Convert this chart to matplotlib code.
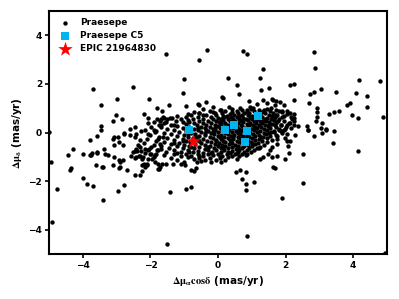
import matplotlib
matplotlib.use('Agg')
import matplotlib.pyplot as plt

# Praesepe members: dense core (relative proper motions, mas/yr)
praesepe_core = [
    (-0.45,0.97),(0.05,0.93),(0.42,0.99),(0.7,0.94),(0.98,0.96),(1.2,0.92),(1.45,0.98),(1.7,0.93),
    (-0.7,0.86),(-0.25,0.9),(0.2,0.87),(0.55,0.89),(0.85,0.85),(1.05,0.9),(1.3,0.86),(1.55,0.88),(1.9,0.85),
    (-0.9,0.78),(-0.55,0.82),(-0.1,0.79),(0.12,0.81),(0.35,0.78),(0.6,0.82),(0.78,0.79),(0.92,0.81),(1.15,0.78),(1.38,0.82),(1.62,0.8),(2.05,0.77),
    (-1.2,0.7),(-0.8,0.74),(-0.35,0.71),(-0.05,0.73),(0.25,0.7),(0.48,0.74),(0.7,0.71),(0.88,0.73),(1.0,0.7),(1.25,0.74),(1.5,0.71),(1.72,0.73),(1.95,0.7),
    (-1.35,0.62),(-0.95,0.66),(-0.6,0.63),(-0.2,0.65),(0.0,0.62),(0.18,0.66),(0.38,0.63),(0.55,0.65),(0.75,0.62),(0.95,0.66),(1.08,0.63),(1.3,0.65),(1.45,0.62),(1.68,0.66),(1.88,0.63),(2.15,0.65),
    (-1.5,0.54),(-1.1,0.58),(-0.75,0.55),(-0.45,0.57),(-0.15,0.54),(0.08,0.58),(0.3,0.55),(0.45,0.57),(0.62,0.54),(0.82,0.58),(1.0,0.55),(1.2,0.57),(1.38,0.54),(1.58,0.58),(1.8,0.55),(2.2,0.57),
    (-1.25,0.46),(-0.9,0.5),(-0.55,0.47),(-0.3,0.49),(-0.05,0.46),(0.15,0.5),(0.35,0.47),(0.5,0.49),(0.68,0.46),(0.9,0.5),(1.05,0.47),(1.25,0.49),(1.42,0.46),(1.65,0.5),(1.95,0.47),
    (-1.6,0.38),(-1.05,0.42),(-0.7,0.39),(-0.45,0.41),(-0.2,0.38),(0.02,0.42),(0.22,0.39),(0.4,0.41),(0.58,0.38),(0.75,0.42),(0.95,0.39),(1.12,0.41),(1.3,0.38),(1.5,0.42),(1.72,0.39),(2.1,0.41),
    (-1.4,0.3),(-0.95,0.34),(-0.62,0.31),(-0.35,0.33),(-0.1,0.3),(0.1,0.34),(0.28,0.31),(0.5,0.33),(0.68,0.3),(0.85,0.34),(1.02,0.31),(1.2,0.33),(1.4,0.3),(1.6,0.34),(1.85,0.31),(2.25,0.33),
    (-1.7,0.22),(-1.2,0.26),(-0.85,0.23),(-0.5,0.25),(-0.25,0.22),(0.0,0.26),(0.18,0.23),(0.36,0.25),(0.55,0.22),(0.72,0.26),(0.9,0.23),(1.1,0.25),(1.28,0.22),(1.48,0.26),(1.7,0.23),(2.0,0.25),
    (-1.5,0.14),(-1.05,0.18),(-0.72,0.15),(-0.4,0.17),(-0.15,0.14),(0.05,0.18),(0.25,0.15),(0.45,0.17),(0.62,0.14),(0.8,0.18),(0.98,0.15),(1.15,0.17),(1.35,0.14),(1.55,0.18),(1.8,0.15),(2.15,0.17),
    (-1.85,0.06),(-1.3,0.1),(-0.95,0.07),(-0.6,0.09),(-0.3,0.06),(-0.08,0.1),(0.12,0.07),(0.32,0.09),(0.52,0.06),(0.7,0.1),(0.88,0.07),(1.05,0.09),(1.25,0.06),(1.45,0.1),(1.65,0.07),(1.95,0.09),
    (-1.6,-0.02),(-1.15,0.02),(-0.8,-0.01),(-0.5,0.01),(-0.2,-0.02),(0.0,0.02),(0.2,-0.01),(0.4,0.01),(0.6,-0.02),(0.78,0.02),(0.95,-0.01),(1.15,0.01),(1.35,-0.02),(1.58,0.02),(1.88,-0.01),
    (-2.0,-0.1),(-1.4,-0.06),(-1.0,-0.09),(-0.68,-0.07),(-0.38,-0.1),(-0.12,-0.06),(0.1,-0.09),(0.3,-0.07),(0.48,-0.1),(0.66,-0.06),(0.85,-0.09),(1.02,-0.07),(1.22,-0.1),(1.42,-0.06),(1.7,-0.09),(2.05,-0.07),
    (-1.75,-0.18),(-1.2,-0.14),(-0.88,-0.17),(-0.55,-0.15),(-0.25,-0.18),(0.0,-0.14),(0.18,-0.17),(0.38,-0.15),(0.58,-0.18),(0.75,-0.14),(0.92,-0.17),(1.1,-0.15),(1.32,-0.18),(1.55,-0.14),
    (-2.1,-0.26),(-1.5,-0.22),(-1.05,-0.25),(-0.75,-0.23),(-0.45,-0.26),(-0.15,-0.22),(0.08,-0.25),(0.28,-0.23),(0.45,-0.26),(0.65,-0.22),(0.82,-0.25),(1.0,-0.23),(1.2,-0.26),(1.45,-0.22),(1.75,-0.25),
    (-1.85,-0.34),(-1.3,-0.3),(-0.95,-0.33),(-0.6,-0.31),(-0.32,-0.34),(-0.05,-0.3),(0.15,-0.33),(0.35,-0.31),(0.55,-0.34),(0.72,-0.3),(0.9,-0.33),(1.08,-0.31),(1.3,-0.34),(1.6,-0.3),
    (-2.2,-0.42),(-1.6,-0.38),(-1.15,-0.41),(-0.82,-0.39),(-0.5,-0.42),(-0.2,-0.38),(0.02,-0.41),(0.22,-0.39),(0.42,-0.42),(0.62,-0.38),(0.8,-0.41),(0.98,-0.39),(1.18,-0.42),(1.45,-0.38),
    (-1.9,-0.5),(-1.4,-0.46),(-1.0,-0.49),(-0.68,-0.47),(-0.38,-0.5),(-0.1,-0.46),(0.12,-0.49),(0.32,-0.47),(0.5,-0.5),(0.7,-0.46),(0.88,-0.49),(1.1,-0.47),(1.35,-0.5),
    (-2.3,-0.58),(-1.7,-0.54),(-1.2,-0.57),(-0.85,-0.55),(-0.55,-0.58),(-0.25,-0.54),(0.0,-0.57),(0.2,-0.55),(0.4,-0.58),(0.6,-0.54),(0.78,-0.57),(1.0,-0.55),(1.25,-0.58),
    (-2.05,-0.66),(-1.45,-0.62),(-1.05,-0.65),(-0.7,-0.63),(-0.4,-0.66),(-0.12,-0.62),(0.1,-0.65),(0.3,-0.63),(0.52,-0.66),(0.7,-0.62),(0.92,-0.65),(1.15,-0.63),
    (-2.4,-0.74),(-1.8,-0.7),(-1.3,-0.73),(-0.9,-0.71),(-0.6,-0.74),(-0.3,-0.7),(-0.05,-0.73),(0.18,-0.71),(0.4,-0.74),(0.62,-0.7),(0.85,-0.73),(1.05,-0.71),
    (-2.15,-0.82),(-1.55,-0.78),(-1.1,-0.81),(-0.75,-0.79),(-0.45,-0.82),(-0.18,-0.78),(0.08,-0.81),(0.3,-0.79),(0.55,-0.82),(0.78,-0.78),(0.98,-0.81),
    (-1.85,-0.9),(-1.3,-0.86),(-0.95,-0.89),(-0.6,-0.87),(-0.3,-0.9),(0.0,-0.86),(0.25,-0.89),(0.5,-0.87),(0.7,-0.9),
    (-2.3,-0.98),(-1.6,-0.94),(-1.1,-0.97),(-0.8,-0.95),(-0.45,-0.98),(-0.15,-0.94),(0.12,-0.97),(0.4,-0.95),(0.62,-0.98),
    (-1.4,-1.06),(-0.9,-1.02),(-0.55,-1.05),(-0.25,-1.03),(0.05,-1.06),(0.3,-1.02),
    (-1.2,-1.14),(-0.7,-1.1),(-0.4,-1.13),(-0.05,-1.11),(0.22,-1.14),(0.55,-1.1),
    (-1.0,-1.22),(-0.5,-1.18),(-0.2,-1.21),(0.1,-1.19),
    # extra fill of the densest part
    (-0.85,0.44),(-0.6,0.2),(-0.35,0.12),(-0.1,0.2),(0.1,0.44),(0.3,0.2),(0.52,0.4),(0.72,0.52),(0.92,0.28),(1.12,0.5),(1.32,0.46),(1.52,0.3),
    (-0.9,-0.04),(-0.65,-0.2),(-0.4,-0.02),(-0.15,0.04),(0.05,-0.2),(0.25,0.04),(0.45,-0.2),(0.65,0.06),(0.86,-0.2),(1.05,0.2),(1.28,-0.2),(1.5,0.0),
    (-1.3,-0.44),(-1.05,-0.36),(-0.8,-0.6),(-0.55,-0.36),(-0.3,-0.6),(-0.05,-0.36),(0.15,-0.6),(0.38,-0.4),(0.58,-0.6),(0.78,-0.35),(1.0,-0.44),(1.22,-0.62),
    (-1.2,-0.85),(-0.85,-0.78),(-0.55,-0.95),(-0.2,-0.84),(0.05,-0.95),(0.35,-0.85),(0.6,-0.78),(0.85,-0.88),
    (-0.45,0.74),(-0.15,0.86),(0.15,0.7),(0.4,0.86),(0.62,0.68),(0.85,0.95),(1.1,0.66),(1.35,0.92),(1.6,0.68),(1.8,0.9),
]

# Praesepe members: scattered halo
praesepe_halo = [
    (-3.69,1.79),(-2.53,1.88),(-2.99,1.38),(-2.05,1.38),(-3.45,1.12),(-1.81,1.03),(-3.02,0.73),(-2.19,0.75),
    (-2.85,0.56),(-3.11,0.47),(-2.07,0.59),(-3.45,0.26),(-3.45,0.09),(-2.47,0.23),(-2.61,0.15),(-2.79,-0.02),
    (-2.28,0.07),(-5.0,0.02),(-1.9,0.45),(-1.75,0.3),(-1.7,0.55),(-1.6,0.62),(-1.55,0.45),
    (-1.98,0.23),(-1.9,0.09),(-1.8,0.56),(-1.72,0.47),(-1.68,0.33),(-2.17,0.12),(-2.07,0.4),
    (-1.55,3.25),(-0.32,3.39),(-0.57,3.0),(0.74,3.37),(0.86,3.22),(1.32,2.6),(-1.02,2.21),(0.30,2.25),
    (1.25,2.23),(0.57,1.95),(1.27,1.75),(1.52,1.82),(-1.04,1.63),(0.62,1.59),(0.16,1.41),(0.12,1.45),
    (0.92,1.29),(-1.45,1.15),(-0.95,1.08),(-0.59,1.16),(-0.55,1.12),(-0.37,1.26),(1.32,1.36),(1.14,1.18),
    (1.59,1.4),(-1.65,0.88),(-1.42,0.6),(-1.64,0.63),(-0.57,0.81),(-0.16,1.05),(0.1,0.95),(0.33,1.06),
    (0.65,1.02),(0.95,1.07),(1.04,1.01),(1.44,1.22),(1.57,1.01),(-1.3,0.33),
    (2.85,3.33),(2.87,2.66),(2.14,1.96),(2.25,2.02),(4.18,2.15),(4.80,2.11),(3.06,1.81),(2.84,1.66),
    (2.72,1.58),(3.50,1.66),(4.07,1.63),(4.42,1.49),(4.42,1.05),(3.90,1.21),(3.81,1.12),(4.88,0.66),
    (2.69,1.23),(2.26,1.33),(3.59,0.9),(3.42,0.85),(3.27,0.75),(3.96,0.71),(4.14,0.6),(2.92,1.01),
    (2.92,0.85),(2.94,0.63),(2.90,0.49),(3.07,0.38),(2.63,0.29),(2.65,0.12),(3.04,0.19),(3.19,0.14),
    (3.44,0.08),(2.36,0.26),(1.63,1.36),(1.72,1.32),(1.82,1.26),(1.95,1.12),(1.68,1.12),(1.9,0.9),
    (2.04,0.88),(2.14,0.81),(1.75,0.74),(2.24,0.76),(1.65,0.53),(1.78,0.47),(1.85,0.33),(2.04,0.33),
    (2.14,0.4),(2.24,0.6),(2.24,0.47),(1.68,0.33),(1.8,0.12),(1.99,0.16),(1.9,0.07),
    (4.13,-0.77),(2.52,-2.07),(1.89,-2.69),(2.52,-0.89),(1.68,-1.44),(3.39,-0.43),(3.19,0.09),(3.07,-0.02),
    (2.84,-0.15),(2.67,0.09),(2.29,-0.11),(1.99,-0.21),(2.04,-0.36),(2.14,-0.36),(2.07,-0.55),(2.10,-0.84),
    (1.99,-1.09),(1.75,-0.45),(1.60,-0.59),(1.75,-0.98),(1.60,-1.0),(1.65,0.03),(1.75,-0.15),(1.85,0.07),
    (4.95,-4.95),
    (-1.42,-2.44),(-0.95,-2.32),(-0.80,-2.24),(-1.5,-4.58),(0.87,-4.27),(0.52,-1.62),(0.64,-1.52),(0.84,-1.63),
    (0.71,-1.92),(0.82,-2.13),(0.82,-2.35),(1.06,-2.03),(-0.80,-1.52),(-0.70,-1.58),(-0.65,-1.44),(-0.63,-1.21),
    (-1.55,-1.28),(-1.33,-1.30),(-1.10,-1.28),(-0.97,-1.33),(-1.75,-1.48),(0.82,-0.93),(1.24,-1.07),(1.34,-1.0),
    (1.49,-0.86),(1.54,-0.73),(1.64,-1.41),
    (-4.93,-1.21),(-4.78,-2.32),(-4.91,-3.68),(-4.36,-1.44),(-4.38,-1.52),(-4.43,-0.91),(-4.28,-0.66),(-3.99,-0.88),
    (-3.99,-1.87),(-3.89,-2.10),(-3.69,-2.20),(-3.39,-2.76),(-2.97,-2.42),(-2.77,-2.14),(-3.77,-0.91),(-3.72,-0.84),
    (-3.78,-0.32),(-3.62,-1.35),(-3.42,-1.42),(-3.57,-0.14),(-3.34,-0.89),(-3.27,-0.93),(-3.37,-0.66),(-3.12,-1.32),
    (-2.92,-1.46),(-2.70,-1.55),(-3.07,-1.0),(-2.92,-1.14),(-2.89,-1.21),(-2.82,-1.14),(-3.12,-0.25),(-3.07,-0.18),
    (-2.97,-0.18),(-3.09,-0.52),(-2.92,-0.39),(-2.82,-0.52),(-2.79,-0.04),(-2.59,-0.96),(-2.47,-1.76),(-2.32,-1.73),
    (-2.24,-1.59),(-2.17,-1.42),(-2.11,-1.35),(-3.79,-0.93),(-3.59,-0.8),(-3.41,-1.41),(-2.91,-1.41),(-2.44,-1.0),
    (-2.34,-0.98),(-2.24,-1.07),(-2.26,-1.35),(-2.19,-1.28),(-2.09,-1.28),(-1.95,-1.07),(-1.90,-1.0),(-1.77,-1.28),
    (-1.65,-1.28),(-2.62,-0.11),(-2.47,-0.18),(-2.42,-0.04),(-2.37,-0.52),(-2.42,-0.66),(-2.47,-0.76),(-2.27,-0.76),
    (-2.17,-0.66),(-2.07,-0.73),(-1.98,-0.59),(-1.98,-0.86),(-1.87,-0.93),(-1.78,-0.73),(-1.73,-0.45),(-1.68,-0.66),
    (-1.78,-1.48),(-1.73,-1.41),(-2.07,-1.07),(-2.02,-0.86),(-1.63,-0.18),(-1.78,-0.25),(-1.87,0.03),(-2.07,-0.04),
    (-2.32,-0.32),(-2.52,-0.8),(-2.45,-1.03),(-2.22,-1.0),(-1.87,-1.21),(-3.59,-0.82),
]

# Praesepe stars observed in K2 Campaign 5
c5_dra = [-0.85, 0.21, 0.46, 0.87, 0.79, 1.17]
c5_ddec = [0.09, 0.09, 0.33, 0.05, -0.39, 0.67]

# EPIC target
epic_dra = [-0.75]
epic_ddec = [-0.36]

series_labels = ["Praesepe", "Praesepe C5", "EPIC 21964830"]

plt.rcParams['mathtext.fontset'] = 'custom'
plt.rcParams['mathtext.rm'] = 'STIXGeneral:bold'
plt.rcParams['mathtext.it'] = 'STIXGeneral:bold'
plt.rcParams['mathtext.bf'] = 'STIXGeneral:bold'

all_pts = praesepe_core + praesepe_halo
px = [p[0] for p in all_pts]
py = [p[1] for p in all_pts]

fig = plt.figure(figsize=(3.99, 2.99), dpi=100)
ax = fig.add_axes([0.123, 0.150, 0.847, 0.813])

ax.scatter(px, py, s=10, c='black', marker='o', linewidths=0, label=series_labels[0], zorder=2)
ax.scatter(c5_dra, c5_ddec, s=40, c='#00b4f0', marker='s', linewidths=0, label=series_labels[1], zorder=3)
ax.scatter(epic_dra, epic_ddec, s=120, c='red', marker='*', linewidths=0, label=series_labels[2], zorder=4)

ax.set_xlim(-5, 5)
ax.set_ylim(-5, 5)
ax.set_xticks([-4, -2, 0, 2, 4])
ax.set_yticks([-4, -2, 0, 2, 4])
for sp in ax.spines.values():
    sp.set_linewidth(1.5)
ax.tick_params(width=1.2, length=3, labelsize=6.5, pad=2)
for lab in ax.get_xticklabels() + ax.get_yticklabels():
    lab.set_fontweight('bold')

ax.set_xlabel(r'$\Delta\mu_{\alpha}cos\delta$ (mas/yr)', fontsize=7.5, fontweight='bold', labelpad=3)
ax.set_ylabel(r'$\Delta\mu_{\delta}$ (mas/yr)', fontsize=7.5, fontweight='bold', labelpad=3)

leg = ax.legend(loc='upper left', frameon=False, prop={'size': 6.5, 'weight': 'bold'},
                handletextpad=0.6, borderaxespad=0.4, labelspacing=0.45, scatterpoints=1)

fig.savefig('out.png', dpi=100)
